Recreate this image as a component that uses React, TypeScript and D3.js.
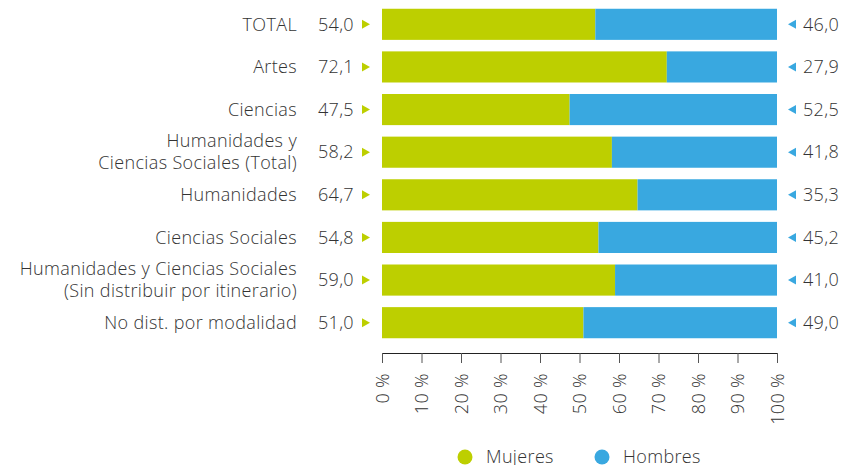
import { useEffect, useRef } from 'react'
import * as d3 from 'd3'

const categories = [
  ['TOTAL'],
  ['Artes'],
  ['Ciencias'],
  ['Humanidades y', 'Ciencias Sociales (Total)'],
  ['Humanidades'],
  ['Ciencias Sociales'],
  ['Humanidades y Ciencias Sociales', '(Sin distribuir por itinerario)'],
  ['No dist. por modalidad'],
]
const mujeres = [54.0, 72.1, 47.5, 58.2, 64.7, 54.8, 59.0, 51.0]
const hombres = [46.0, 27.9, 52.5, 41.8, 35.3, 45.2, 41.0, 49.0]
const ticks = [0, 10, 20, 30, 40, 50, 60, 70, 80, 90, 100]
const seriesNames = ['Mujeres', 'Hombres']

const GREEN = '#bdcf00'
const BLUE = '#39a8e0'
const TEXT = '#333333'
const FONT = '"Open Sans", sans-serif'

const fmt = (v: number) => v.toFixed(1).replace('.', ',')

export default function App() {
  const svgRef = useRef<SVGSVGElement>(null)

  useEffect(() => {
    if (!svgRef.current) return
    const svg = d3.select(svgRef.current)
    svg.selectAll('*').remove()

    const x = d3.scaleLinear().domain([0, 100]).range([382, 777])
    const y = d3
      .scaleBand<number>()
      .domain(d3.range(categories.length))
      .range([3, 344])
      .paddingInner(0.27)
      .paddingOuter(0.135)

    const g = svg
      .append('g')
      .style('font-family', FONT)
      .style('font-weight', 350)
      .style('letter-spacing', '0.35px')

    const rows = g
      .selectAll('g.row')
      .data(d3.range(categories.length))
      .join('g')
      .attr('class', 'row')

    // barras
    rows
      .append('rect')
      .attr('x', x(0))
      .attr('y', (i) => y(i)!)
      .attr('width', (i) => x(mujeres[i]) - x(0))
      .attr('height', y.bandwidth())
      .attr('fill', GREEN)

    rows
      .append('rect')
      .attr('x', (i) => x(mujeres[i]))
      .attr('y', (i) => y(i)!)
      .attr('width', (i) => x(100) - x(mujeres[i]))
      .attr('height', y.bandwidth())
      .attr('fill', BLUE)

    const cy = (i: number) => y(i)! + y.bandwidth() / 2

    // etiquetas de categoría
    rows.each(function (i) {
      const lines = categories[i]
      const t = d3
        .select(this)
        .append('text')
        .attr('text-anchor', 'end')
        .attr('fill', TEXT)
        .attr('font-size', 18)
      lines.forEach((l, k) => {
        t.append('tspan')
          .attr('x', 297)
          .attr('y', cy(i) + (k - (lines.length - 1) / 2) * 22)
          .attr('dy', '0.35em')
          .text(l)
      })
    })

    // valores mujeres
    rows
      .append('text')
      .attr('x', 354)
      .attr('y', cy)
      .attr('dy', '0.35em')
      .attr('text-anchor', 'end')
      .attr('fill', TEXT)
      .attr('font-size', 18)
      .text((i) => fmt(mujeres[i]))

    rows
      .append('path')
      .attr('d', (i) => `M362,${cy(i) - 4.5}L370,${cy(i)}L362,${cy(i) + 4.5}Z`)
      .attr('fill', GREEN)

    // valores hombres
    rows
      .append('path')
      .attr('d', (i) => `M796,${cy(i) - 4.5}L788,${cy(i)}L796,${cy(i) + 4.5}Z`)
      .attr('fill', BLUE)

    rows
      .append('text')
      .attr('x', 803)
      .attr('y', cy)
      .attr('dy', '0.35em')
      .attr('fill', TEXT)
      .attr('font-size', 18)
      .text((i) => fmt(hombres[i]))

    // eje
    const axis = g
      .append('g')
      .attr('transform', 'translate(0,353)')
      .call(
        d3
          .axisBottom(x)
          .tickValues(ticks)
          .tickSize(10)
          .tickSizeOuter(0)
          .tickFormat((d) => `${d} %`)
      )
    axis.select('.domain').attr('stroke', '#222')
    axis.selectAll('.tick line').attr('stroke', '#555')
    axis
      .selectAll('.tick text')
      .attr('fill', TEXT)
      .attr('font-size', 18)
      .attr('font-family', FONT)
      .attr('text-anchor', 'end')
      .attr('transform', 'rotate(-90)')
      .attr('x', -20)
      .attr('y', 0)
      .attr('dy', '0.35em')

    // leyenda
    const legend = g.append('g').attr('transform', 'translate(0,457)')
    const lx = [465, 602]
    seriesNames.forEach((n, k) => {
      legend
        .append('circle')
        .attr('cx', lx[k])
        .attr('cy', 0)
        .attr('r', 7.5)
        .attr('fill', k === 0 ? GREEN : BLUE)
      legend
        .append('text')
        .attr('x', lx[k] + 21)
        .attr('y', 0)
        .attr('dy', '0.35em')
        .attr('fill', TEXT)
        .attr('font-size', 18)
        .text(n)
    })
  }, [])

  return (
    <svg
      ref={svgRef}
      width={846}
      height={465}
      style={{ position: 'absolute', left: 0, top: 0, display: 'block' }}
    />
  )
}
